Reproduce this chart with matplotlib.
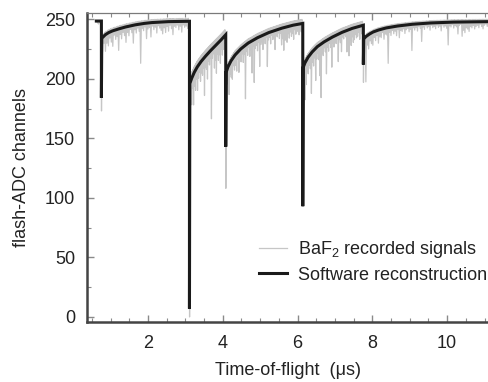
import numpy as np
import matplotlib
matplotlib.use("Agg")
import matplotlib.pyplot as plt
from matplotlib.ticker import MultipleLocator

plt.rcParams['font.family'] = ['Liberation Sans', 'DejaVu Sans']
plt.rcParams['mathtext.fontset'] = 'custom'
plt.rcParams['mathtext.rm'] = 'Liberation Sans'
plt.rcParams['mathtext.it'] = 'Liberation Sans:italic'

# ---------------- data ----------------
start_t = 0.62
baseline = 248.5

pulse_t = [0.755, 3.11, 4.08, 6.14, 7.76]
pulse_min_black = [184, 7, 143, 93, 212]
pulse_min_gray = [173, 0, 108, 93, 197]

# reconstruction recovery curves after each pulse
seg1_t = [0.765, 0.86, 0.95, 1.05, 1.22, 1.4, 1.66, 1.9, 2.1, 2.55, 3.11]
seg1_v = [234, 237, 238.8, 240.2, 241.9, 243.5, 245.3, 246.5, 247.2, 248, 248.3]
seg2_t = [3.12, 3.17, 3.24, 3.32, 3.42, 3.54, 3.67, 3.81, 3.95, 4.08]
seg2_v = [196, 200.5, 205.5, 210, 214.5, 219, 223.5, 228, 232.5, 237]
seg3_t = [4.09, 4.14, 4.22, 4.33, 4.48, 4.68, 4.93, 5.23, 5.58, 5.88, 6.14]
seg3_v = [205.5, 210, 215, 220, 225, 230, 234.5, 238.8, 242.5, 245, 246.5]
seg4_t = [6.15, 6.20, 6.28, 6.39, 6.53, 6.71, 6.93, 7.19, 7.46, 7.76]
seg4_v = [209.5, 213.5, 218, 222.5, 227, 231, 235, 239, 242.3, 245]
seg5_t = [7.77, 7.83, 7.92, 8.02, 8.17, 8.37, 8.67, 9.07, 9.57, 10.17, 11.12]
seg5_v = [233.5, 235.5, 237.5, 239.3, 241, 242.7, 244.3, 245.8, 246.9, 247.6, 248]

# recorded-signal noise: depth of each downward excursion below the curve
gray1_dev = [12, 6, 14, 8, 11, 5, 9, 13, 4, 8, 6, 18, 5, 9, 4, 7, 13, 5, 8, 3,
             6, 15, 4, 7, 3, 6, 33, 4, 6, 3, 13, 5, 4, 12, 3, 6, 4, 9, 3, 5,
             7, 10, 5, 9, 4, 8, 3, 6, 11, 4, 5, 3, 7, 4, 9, 3, 5, 4, 6, 3]
gray2_dev = [14, 22, 10, 26, 12, 17, 9, 20, 11, 7, 16, 10, 13, 8, 32, 9, 12, 21,
             7, 11, 6, 58, 8, 5, 18, 12, 24, 9, 15, 11, 19, 8, 14, 10, 6, 12]
gray3_dev = [12, 8, 25, 10, 14, 17, 7, 12, 9, 15, 6, 18, 8, 11, 5, 13, 7, 45, 6, 10,
             4, 12, 7, 27, 5, 36, 8, 6, 11, 4, 25, 7, 5, 12, 4, 8, 3, 28, 6, 4,
             10, 3, 7, 5, 16, 4, 6, 3, 8, 4, 14, 9, 19, 11, 8, 13, 6, 10, 5, 9,
             7, 12, 4, 8, 6, 3, 9, 5, 7, 4]
gray4_dev = [15, 31, 20, 10, 14, 8, 12, 34, 9, 13, 7, 27, 10, 6, 12, 26, 45, 8, 11, 5,
             9, 28, 6, 10, 4, 8, 25, 5, 9, 4, 7, 3, 23, 5, 8, 16, 4, 6, 3, 5,
             18, 11, 22, 9, 14, 7, 12, 10, 6, 9, 8, 5, 11, 4, 7, 3]
gray5_dev = [10, 38, 8, 12, 6, 9, 11, 5, 8, 4, 11, 6, 7, 3, 9, 5, 6, 30, 4, 7,
             3, 6, 4, 8, 3, 10, 4, 5, 3, 7, 4, 3, 6, 4, 22, 3, 5, 3, 6, 2,
             4, 15, 3, 5, 2, 4, 3, 6, 2, 4, 3, 5, 2, 4, 3, 7, 2, 4, 3, 5,
             19, 3, 4, 2, 5, 3, 4, 10, 3, 2, 12, 7, 9, 5, 6, 8, 4, 5, 3, 6,
             4, 3, 5, 2, 4, 6, 3, 2, 4, 3]
gray_up = [2.5, 5, 3.5, 3.5, 2]

segs_t = [seg1_t, seg2_t, seg3_t, seg4_t, seg5_t]
segs_v = [seg1_v, seg2_v, seg3_v, seg4_v, seg5_v]
gray_devs = [gray1_dev, gray2_dev, gray3_dev, gray4_dev, gray5_dev]

xticks = [2, 4, 6, 8, 10]
yticks = [0, 50, 100, 150, 200, 250]

# ---------------- build traces ----------------
bx = [start_t, pulse_t[0]]
by = [baseline, baseline]
gx = [start_t, 0.68, 0.72, pulse_t[0]]
gy = [baseline, 246, 249, baseline]
for i in range(5):
    st, sv = np.array(segs_t[i]), np.array(segs_v[i])
    bx += [pulse_t[i]] + list(st)
    by += [pulse_min_black[i]] + list(sv)
    gx += [pulse_t[i] + 0.003]
    gy += [pulse_min_gray[i]]
    dev = np.array(gray_devs[i], dtype=float)
    n = len(dev)
    ts = np.linspace(st[0] + 0.02, st[-1] - 0.01, n)
    step = ts[1] - ts[0]
    cur = np.interp(ts, st, sv)
    curu = np.interp(ts - step / 2, st, sv)
    for k in range(n):
        gx += [ts[k] - step / 2, ts[k]]
        gy += [curu[k] + gray_up[i], cur[k] - dev[k]]
    gx += [st[-1]]
    gy += [sv[-1] + 0.5]

# ---------------- plot ----------------
fig = plt.figure(figsize=(4.89, 3.82), dpi=100)
ax = fig.add_axes([87 / 489, (382 - 322.3) / 382, 1 - 87 / 489, (322.3 - 12.7) / 382])

ax.plot(gx, gy, color='#c6c6c6', lw=0.9, label='BaF$_2$ recorded signals', zorder=2)
ax.plot(bx, by, color='#1a1a1a', lw=2.2, label='Software reconstruction', zorder=3,
        solid_joinstyle='miter')

ax.set_xlim(0.37, 11.12)
ax.set_ylim(-4.5, 255.5)
ax.set_xticks(xticks)
ax.set_yticks(yticks)
ax.xaxis.set_minor_locator(MultipleLocator(0.5))
ax.yaxis.set_minor_locator(MultipleLocator(25))

for s in ['left', 'bottom']:
    ax.spines[s].set_color('#444444')
    ax.spines[s].set_linewidth(1.8)
ax.spines['top'].set_color('#7a7a7a')
ax.spines['top'].set_linewidth(0.9)
ax.spines['right'].set_visible(False)

ax.tick_params(which='both', direction='in', top=True, right=False, color='#8a8a8a',
               labelcolor='#222222', labelsize=13)
ax.tick_params(which='major', length=5, width=1)
ax.tick_params(which='minor', length=3, width=0.8)
ax.tick_params(axis='y', pad=8.5)
ax.tick_params(axis='x', pad=9.5)

ax.set_xlabel('Time-of-flight  (μs)', fontsize=13, color='#222222', labelpad=7)
ax.set_ylabel('flash-ADC channels', fontsize=13, color='#222222', labelpad=11)

leg = ax.legend(loc='lower right', bbox_to_anchor=(0.995, 0.125), frameon=False,
                fontsize=13, handlelength=1.55, handletextpad=0.6, labelspacing=0.35,
                borderpad=0, borderaxespad=0)
for t in leg.get_texts():
    t.set_color('#222222')

fig.savefig('out.png', dpi=100)
